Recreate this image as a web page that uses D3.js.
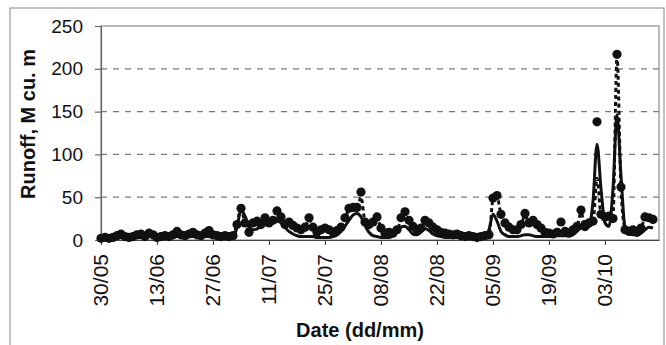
<!DOCTYPE html>
<html>
<head>
<meta charset="utf-8">
<script src="https://cdnjs.cloudflare.com/ajax/libs/d3/7.8.5/d3.min.js"></script>
<style>
  body { margin: 0; background: #fff; }
  text { font-family: "Liberation Sans", Arial, sans-serif; fill: #111; }
</style>
</head>
<body>
<div class="container"></div>
<script>
// daily series, day 0 = 30/05
const START_DATE = '2001-05-30';

const observed = [
    2, 3, 2, 3, 5, 7, 4, 3, 4, 6,
    7, 4, 8, 6, 3, 4, 5, 4, 6, 10,
    6, 5, 7, 9, 6, 5, 8, 11, 6, 5,
    4, 5, 4, 5, 18, 37, 20, 9, 20, 22,
    18, 26, 20, 23, 34, 27, 18, 21, 17, 14,
    12, 15, 26, 15, 9, 12, 14, 12, 9, 11,
    15, 26, 37, 38, 38, 56, 21, 18, 21, 27,
    14, 8, 9, 8, 12, 26, 33, 23, 16, 12,
    14, 23, 20, 15, 12, 9, 8, 7, 6, 7,
    5, 4, 5, 4, 3, 4, 5, 6, 49, 52,
    30, 20, 15, 12, 12, 18, 31, 20, 23, 18,
    14, 9, 8, 7, 9, 21, 10, 8, 12, 16,
    35, 18, 20, 22, 138, 30, 27, 28, 25, 217,
    62, 12, 10, 12, 9, 14, 27, 26, 24
];

const simSolid = [
    2, 2, 2, 3, 3, 3, 3, 3, 3, 3,
    3, 4, 4, 4, 3, 3, 3, 3, 4, 4,
    4, 4, 4, 4, 4, 4, 4, 4, 3, 3,
    3, 3, 3, 3, 15, 35, 28, 16, 12, 13,
    16, 18, 20, 21, 22, 20, 15, 10, 7, 5,
    4, 4, 4, 4, 3, 3, 3, 3, 4, 6,
    10, 16, 23, 29, 31, 27, 17, 9, 5, 4,
    3, 3, 3, 5, 10, 15, 16, 12, 7, 6,
    9, 13, 11, 7, 5, 4, 3, 3, 3, 3,
    3, 3, 3, 3, 3, 3, 3, 12, 30, 22,
    10, 6, 4, 4, 4, 5, 6, 6, 5, 4,
    4, 4, 4, 4, 5, 5, 5, 5, 6, 10,
    14, 12, 16, 45, 112, 60, 20, 16, 60, 146,
    75, 15, 8, 6, 6, 8, 12, 15, 14
];

const simDotted = [
    2, 3, 2, 3, 4, 6, 4, 3, 4, 5,
    6, 4, 7, 5, 3, 4, 5, 4, 5, 9,
    6, 5, 6, 8, 6, 5, 7, 10, 6, 5,
    4, 5, 4, 5, 20, 36, 20, 12, 18, 20,
    18, 24, 20, 22, 32, 26, 18, 20, 16, 13,
    12, 14, 24, 15, 10, 12, 13, 12, 10, 11,
    14, 24, 36, 37, 37, 50, 22, 18, 20, 25,
    14, 9, 9, 8, 11, 24, 31, 22, 16, 12,
    13, 21, 19, 15, 12, 9, 8, 7, 6, 6,
    5, 4, 5, 4, 3, 4, 5, 6, 47, 50,
    30, 20, 15, 12, 12, 17, 29, 20, 22, 17,
    13, 9, 8, 7, 9, 19, 10, 8, 11, 15,
    32, 18, 19, 21, 72, 30, 26, 26, 28, 215,
    60, 14, 10, 11, 9, 13, 25, 25, 23
];

const xTickLabels = ['30/05', '13/06', '27/06', '11/07', '25/07', '08/08', '22/08', '05/09', '19/09', '03/10'];
const yTicks = [0, 50, 100, 150, 200, 250];

const WIDTH = 666;
const HEIGHT = 345;
const PLOT = { left: 101, right: 659, top: 26, bottom: 240 };

const parseDay = d3.timeParse('%Y-%m-%d');
const start = parseDay(START_DATE);
const day = i => d3.timeDay.offset(start, i);
const tickDates = xTickLabels.map(s => d3.timeParse('%d/%m/%Y')(s + '/2001'));

var svg = d3.select('.container').append('svg')
    .attr('width', WIDTH)
    .attr('height', HEIGHT);

// outer chart frame
svg.append('rect')
    .attr('x', 10).attr('y', 8)
    .attr('width', 654).attr('height', 360)
    .attr('fill', 'none')
    .attr('stroke', '#9a9a9a')
    .attr('stroke-width', 1.2);

var xScale = d3.scaleTime()
    .domain([start, d3.timeHour.offset(day(139), 12)])
    .range([PLOT.left, PLOT.right]);

var yScale = d3.scaleLinear()
    .domain([0, 250])
    .range([PLOT.bottom, PLOT.top]);

// gridlines
svg.append('g').selectAll('line')
    .data(yTicks.filter(v => v > 0 && v < 250))
    .enter().append('line')
    .attr('x1', PLOT.left).attr('x2', PLOT.right)
    .attr('y1', v => yScale(v)).attr('y2', v => yScale(v))
    .attr('stroke', '#7a7a7a')
    .attr('stroke-width', 1.2)
    .attr('stroke-dasharray', '6,6');

// plot area border
svg.append('rect')
    .attr('x', PLOT.left).attr('y', PLOT.top)
    .attr('width', PLOT.right - PLOT.left)
    .attr('height', PLOT.bottom - PLOT.top)
    .attr('fill', 'none')
    .attr('stroke', '#8a8a8a')
    .attr('stroke-width', 1.2);

var yAxis = d3.axisLeft(yScale).tickValues(yTicks).tickSize(6).tickSizeOuter(0).tickPadding(12);
var xAxis = d3.axisBottom(xScale).tickValues(tickDates).tickSize(5).tickSizeOuter(0).tickFormat(() => '');

var gy = svg.append('g')
    .attr('transform', `translate(${PLOT.left}, 0)`)
    .call(yAxis);
gy.selectAll('path, line').attr('stroke', '#666').attr('stroke-width', 1.2);
gy.selectAll('text').style('font-size', '19px').attr('fill', '#111');

var gx = svg.append('g')
    .attr('transform', `translate(0, ${PLOT.bottom})`)
    .call(xAxis);
gx.selectAll('path, line').attr('stroke', '#444').attr('stroke-width', 1.2);

// rotated date labels
svg.append('g').selectAll('text')
    .data(tickDates)
    .enter().append('text')
    .attr('transform', d => `translate(${xScale(d)}, 254) rotate(-90)`)
    .attr('text-anchor', 'end')
    .attr('dy', '0.35em')
    .style('font-size', '21px')
    .text((d, i) => xTickLabels[i]);

var g = svg.append('g');

var line = d3.line()
    .x((v, i) => xScale(day(i)))
    .y(v => yScale(v))
    .curve(d3.curveMonotoneX);

g.append('path')
    .datum(simDotted)
    .attr('d', line)
    .attr('fill', 'none')
    .attr('stroke', '#111')
    .attr('stroke-width', 3)
    .attr('stroke-dasharray', '4,3');

g.append('path')
    .datum(simSolid)
    .attr('d', line)
    .attr('fill', 'none')
    .attr('stroke', '#111')
    .attr('stroke-width', 3);

g.selectAll('circle').data(observed)
    .enter().append('circle')
    .attr('cx', (v, i) => xScale(day(i)))
    .attr('cy', v => yScale(v))
    .attr('r', 4.6)
    .attr('fill', '#111');

// axis titles
svg.append('text')
    .attr('x', 360).attr('y', 337)
    .attr('text-anchor', 'middle')
    .style('font-size', '20px')
    .style('font-weight', 'bold')
    .text('Date (dd/mm)');

svg.append('text')
    .attr('transform', 'translate(35, 124) rotate(-90)')
    .attr('text-anchor', 'middle')
    .style('font-size', '20px')
    .style('font-weight', 'bold')
    .text('Runoff, M cu. m');
</script>
</body>
</html>
